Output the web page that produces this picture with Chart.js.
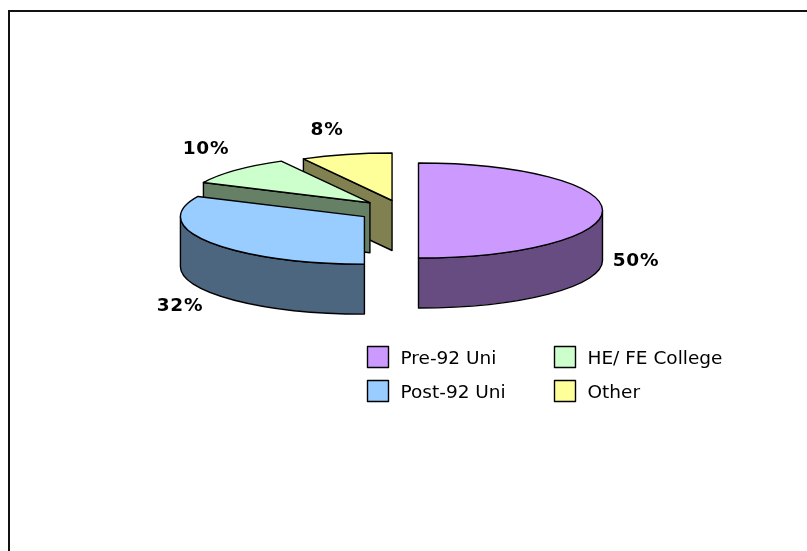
<!DOCTYPE html>
<html><head><meta charset="utf-8">
<style>html,body{margin:0;padding:0;background:#fff}#w{position:absolute;left:0;top:0;width:807px;height:551px}</style>
<script src="https://cdn.jsdelivr.net/npm/chart.js@4"></script>
</head><body><div id="w"><canvas id="c" width="807" height="551"></canvas></div>
<script>
const categories = ['Pre-92 Uni','Post-92 Uni','HE/ FE College','Other'];
const shares = [50,32,10,8];
const topColors = ['#CC99FF','#99CCFF','#CCFFCC','#FFFF99'];
const wallColors = ['#664C80','#4D6680','#668066','#808050'];
const explode = [66,178,176,160];
const pctLabelCentres = [[636,261],[180,306],[206,149],[327,130]];
const legendBoxes = [[367.5,346.5],[367.5,380.5],[554.5,346.5],[554.5,380.5]];

const R = 184, SQ = 0.258, DEPTH = 50;
function geom(a){
  const mid=(a.startAngle+a.endAngle)/2, d=(a.options.offset||0)/4;
  return {x:a.x+Math.cos(mid)*d, y:a.y+Math.sin(mid)*d*SQ};
}
function wall(ctx,a,fill){
  const g=geom(a), s=a.startAngle, e=a.endAngle;
  ctx.strokeStyle='#000';ctx.lineWidth=1.4;ctx.lineJoin='round';ctx.fillStyle=fill;
  const quad=t=>{const px=g.x+Math.cos(t)*R,py=g.y+Math.sin(t)*R*SQ;ctx.beginPath();ctx.moveTo(g.x,g.y);ctx.lineTo(px,py);ctx.lineTo(px,py+DEPTH);ctx.lineTo(g.x,g.y+DEPTH);ctx.closePath();ctx.fill();ctx.stroke();};
  if(Math.cos(s)<-1e-6)quad(s);
  if(Math.cos(e)>1e-6)quad(e);
  const lo=Math.max(s,0),hi=Math.min(e,Math.PI);
  if(hi>lo){
    ctx.beginPath();ctx.ellipse(g.x,g.y,R,R*SQ,0,lo,hi);ctx.ellipse(g.x,g.y+DEPTH,R,R*SQ,0,hi,lo,true);ctx.closePath();
    ctx.fill();ctx.stroke();
  }
}
const pie3d={id:'pie3d',
  afterDatasetsUpdate(ch){ch.getDatasetMeta(0).data.forEach(a=>{
    const d=(a.options.offset||0)/4, fix=1-Math.sin(Math.min(Math.PI,a.circumference));
    a.outerRadius=R-d*fix;});},
  beforeDraw(ch){const c=ch.ctx;c.save();c.fillStyle='#111';c.fillRect(8,10,799,2);c.fillRect(8,10,2,541);c.restore();},
  beforeDatasetsDraw(ch){
    const c=ch.ctx,arcs=ch.getDatasetMeta(0).data;
    for(let i=arcs.length-1;i>=0;i--)wall(c,arcs[i],wallColors[i]);
    const a=arcs[0];c.save();c.translate(0,a.y);c.scale(1,SQ);c.translate(0,-a.y);
  },
  afterDatasetsDraw(ch){
    const c=ch.ctx,arcs=ch.getDatasetMeta(0).data;c.restore();
    c.save();c.strokeStyle='#000';c.lineWidth=1.4;c.lineJoin='round';
    arcs.forEach((a,i)=>{const g=geom(a);c.beginPath();c.moveTo(g.x,g.y);c.ellipse(g.x,g.y,R,R*SQ,0,a.startAngle,a.endAngle);c.closePath();c.fillStyle=topColors[i];c.fill();c.stroke();});
    c.fillStyle='#000';c.textAlign='center';c.textBaseline='middle';c.font='bold 18.5px "DejaVu Sans"';c.letterSpacing='0.8px';
    shares.forEach((v,i)=>c.fillText(v+'%',pctLabelCentres[i][0],pctLabelCentres[i][1]));
    c.letterSpacing='0px';c.textAlign='left';c.textBaseline='alphabetic';c.font='18.5px "DejaVu Sans"';
    categories.forEach((t,i)=>{const [x,y]=legendBoxes[i];c.fillStyle=topColors[i];c.fillRect(x,y,21,21);c.lineWidth=1.4;c.strokeRect(x,y,21,21);c.fillStyle='#000';c.fillText(t,x+33,y+17);});
    c.restore();
  }
};
new Chart(document.getElementById('c'),{type:'pie',
  data:{labels:categories,datasets:[{data:shares,backgroundColor:topColors,borderWidth:0,offset:explode,clip:false}]},
  options:{responsive:false,animation:false,events:[],
    layout:{padding:{left:0,top:0,right:3,bottom:130}},
    plugins:{legend:{display:false},tooltip:{enabled:false},title:{display:false}}},
  plugins:[pie3d]});
</script></body></html>
